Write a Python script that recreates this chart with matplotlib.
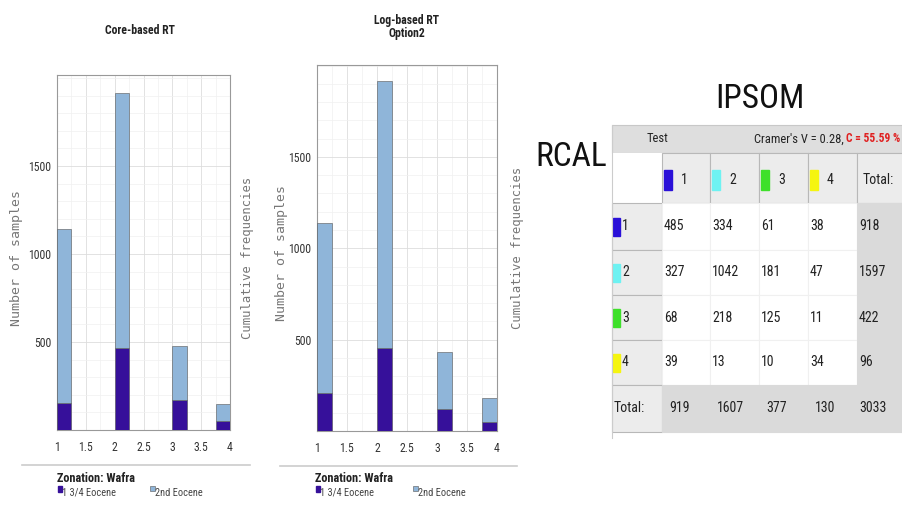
import matplotlib
matplotlib.use('Agg')
import matplotlib.pyplot as plt
from matplotlib.patches import Rectangle
from matplotlib.ticker import MultipleLocator

# Bar data
classes = [1, 2, 3, 4]
core_eocene_134 = [153, 466, 170, 51]
core_total = [1140, 1915, 477, 148]
log_eocene_134 = [208, 454, 120, 49]
log_total = [1138, 1916, 432, 180]

# Contingency table RCAL (rows) vs IPSOM (cols)
col_labels = ['1', '2', '3', '4']
class_colors = ['#2a10d8', '#6ef2f2', '#3ee02a', '#f5f510']
table_values = [
    [485, 334, 61, 38],
    [327, 1042, 181, 47],
    [68, 218, 125, 11],
    [39, 13, 10, 34],
]
row_totals = [918, 1597, 422, 96]
col_totals = [919, 1607, 377, 130]
grand_total = 3033

DARK = '#36109a'
LIGHT = '#8fb5d9'
NARROW = ['Roboto Condensed', 'Liberation Sans', 'DejaVu Sans']

W, H = 902, 507
fig = plt.figure(figsize=(W / 100, H / 100), dpi=100)


def fig_rect(x0, y0, x1, y1):
    # pixel box -> figure fraction
    return [x0 / W, 1 - y1 / H, (x1 - x0) / W, (y1 - y0) / H]


def bar_chart(box, dark, total, ymax):
    ax = fig.add_axes(fig_rect(*box))
    width = 0.25
    lefts = [min(c, 4 - width) for c in classes]
    light = [t - d for t, d in zip(total, dark)]
    ax.bar(lefts, dark, width=width, align='edge', color=DARK,
           edgecolor='#555555', linewidth=0.4, zorder=3)
    ax.bar(lefts, light, width=width, bottom=dark, align='edge',
           color=LIGHT, edgecolor='#555555', linewidth=0.4, zorder=3)
    ax.set_xlim(1, 4)
    ax.set_ylim(0, ymax)
    ax.xaxis.set_minor_locator(MultipleLocator(0.25))
    ax.yaxis.set_minor_locator(MultipleLocator(100))
    ax.set_xticks([1, 1.5, 2, 2.5, 3, 3.5, 4])
    ax.set_xticklabels(['1', '1.5', '2', '2.5', '3', '3.5', '4'])
    ax.set_yticks([500, 1000, 1500])
    ax.set_yticklabels(['500', '1000', '1500'])
    ax.grid(True, which='major', color='#dddddd', linewidth=0.6, zorder=0)
    ax.grid(True, which='minor', color='#f0f0f0', linewidth=0.5, zorder=0)
    ax.tick_params(which='both', length=0, labelsize=8.5)
    ax.tick_params(axis='x', pad=8)
    ax.tick_params(axis='y', pad=4)
    for lab in ax.get_xticklabels() + ax.get_yticklabels():
        lab.set_family(NARROW)
        lab.set_color('#333333')
    for s in ax.spines.values():
        s.set_color('#999999')
        s.set_linewidth(0.8)
    return ax


bar_chart((57, 75, 230, 430), core_eocene_134, core_total, 2017)
bar_chart((317, 65, 497, 431), log_eocene_134, log_total, 2003)

# overlay axis in pixel coordinates for text, legend and table
ov = fig.add_axes([0, 0, 1, 1], zorder=-1)
ov.set_xlim(0, W)
ov.set_ylim(H, 0)
ov.axis('off')

ov.text(140, 31, 'Core-based RT', ha='center', va='center', fontsize=8.5,
        fontweight='bold', family=NARROW, color='#222222')
ov.text(407, 27, 'Log-based RT\nOption2', ha='center', va='center',
        fontsize=8.5, fontweight='bold', family=NARROW, color='#222222',
        linespacing=1.0)

lab_kw = dict(rotation=90, ha='center', va='center', color='#777777',
              family='DejaVu Sans Mono')
ov.text(17, 258, 'Number of samples', fontsize=9.5, **lab_kw)
ov.text(248, 258, 'Cumulative frequencies', fontsize=8.8, **lab_kw)
ov.text(281, 253, 'Number of samples', fontsize=9.5, **lab_kw)
ov.text(517, 248, 'Cumulative frequencies', fontsize=8.8, **lab_kw)

# separator lines and legends
for x0, x1, y in [(22, 250, 465), (280, 517, 466)]:
    ov.plot([x0, x1], [y, y], color='#cccccc', linewidth=1.2)

for zx, lx in [(57, 150), (315, 413)]:
    ov.text(zx, 478, 'Zonation: Wafra', fontsize=8.8, fontweight='bold',
            family=NARROW, va='center', ha='left', color='#222222')
    ov.add_patch(Rectangle((zx + 1, 486), 4, 6, color=DARK))
    ov.text(zx + 5, 493, '1 3/4 Eocene', fontsize=7.5, family=NARROW,
            va='center', ha='left', color='#444444')
    ov.add_patch(Rectangle((lx, 486), 5, 5, facecolor=LIGHT,
                           edgecolor='#555555', linewidth=0.4))
    ov.text(lx + 5, 493, '2nd Eocene', fontsize=7.5, family=NARROW,
            va='center', ha='left', color='#444444')

# table titles
ov.text(760, 99, 'IPSOM', fontsize=24, family=NARROW, ha='center',
        va='center', color='#111111')
ov.text(571, 157, 'RCAL', fontsize=24, family=NARROW, ha='center',
        va='center', color='#111111')

# table layout
col_x = [612, 662, 710, 759, 808, 857, 905]
row_y = [153, 203, 250, 295, 340, 385, 432]
GRAY = '#dadada'
BTN = '#ececec'

ov.add_patch(Rectangle((col_x[0], 125), W - col_x[0], 28,
                       facecolor='#dedede', edgecolor='#c8c8c8', linewidth=0.8))
ov.text(657, 139, 'Test', fontsize=9, family=NARROW, ha='center',
        va='center', color='#222222')
ov.text(844, 139, "Cramer's V = 0.28,", fontsize=9, family=NARROW,
        ha='right', va='center', color='#222222')
ov.text(846, 139, 'C = 55.59 %', fontsize=8.3, family=NARROW, ha='left',
        va='center', color='#e02020', fontweight='bold')
ov.plot([col_x[0], col_x[0]], [row_y[-1] + 6, 125], color='#cccccc', lw=0.8)

n = len(col_labels)
for r in range(n + 2):
    for c in range(n + 2):
        x0, x1 = col_x[c], col_x[c + 1]
        y0, y1 = row_y[r], row_y[r + 1]
        if r == 0 and c == 0:
            fc, ec = 'white', 'white'
        elif r == 0 or c == 0:
            fc, ec = BTN, '#b8b8b8'
        elif r == n + 1 or c == n + 1:
            fc, ec = GRAY, GRAY
        else:
            fc, ec = 'white', '#f0f0f0'
        ov.add_patch(Rectangle((x0, y0), x1 - x0, y1 - y0, facecolor=fc,
                               edgecolor=ec, linewidth=0.8))

txt_kw = dict(fontsize=10, family=NARROW, va='center', color='#222222')
# column headers
for c, lab in enumerate(col_labels):
    x0 = col_x[c + 1]
    ov.add_patch(Rectangle((x0 + 2, 170), 8, 20, color=class_colors[c]))
    ov.text(x0 + 19, 180, lab, ha='left', **txt_kw)
ov.text(col_x[n + 1] + 6, 180, 'Total:', ha='left', **txt_kw)

# body rows
for r, lab in enumerate(col_labels):
    yc = (row_y[r + 1] + row_y[r + 2]) / 2
    ov.add_patch(Rectangle((col_x[0] + 1, yc - 9), 7, 18,
                           color=class_colors[r]))
    ov.text(col_x[0] + 10, yc, lab, ha='left', **txt_kw)
    for c, v in enumerate(table_values[r]):
        ov.text(col_x[c + 1] + 2, yc, str(v), ha='left', **txt_kw)
    ov.text(col_x[n + 1] + 2, yc, str(row_totals[r]), ha='left', **txt_kw)

yc = (row_y[n + 1] + row_y[n + 2]) / 2
ov.text(col_x[0] + 2, yc, 'Total:', ha='left', **txt_kw)
for c, v in enumerate(col_totals):
    ov.text(col_x[c + 1] + 7, yc, str(v), ha='left', **txt_kw)
ov.text(col_x[n + 1] + 2, yc, str(grand_total), ha='left', **txt_kw)

fig.savefig('out.png', dpi=100)
